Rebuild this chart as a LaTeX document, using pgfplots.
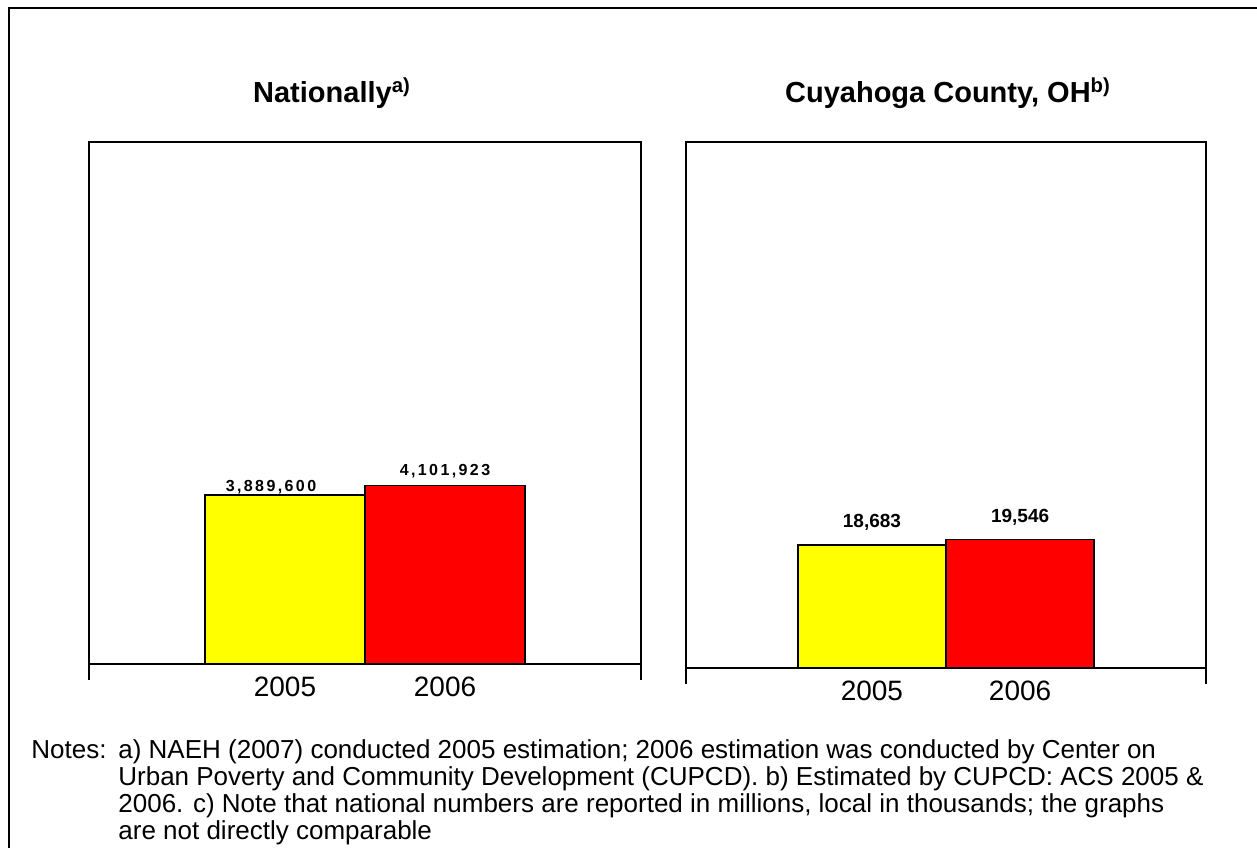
\documentclass[border=0pt]{standalone}
\usepackage{pgfplots}
\pgfplotsset{compat=1.18}
\usepackage{fontspec}
\setmainfont{Liberation Sans}
\definecolor{yel}{RGB}{255,255,0}
\definecolor{rd}{RGB}{255,0,0}
\begin{document}
\begin{tikzpicture}
\useasboundingbox (0pt,0pt) rectangle (628.5pt,423.5pt);
\draw[line width=1pt] (4.5pt,-1pt) -- (4.5pt,419.5pt) -- (630pt,419.5pt);
\pgfplotsset{
  panel/.style={
    anchor=south west, scale only axis,
    ymin=0, ytick=\empty,
    axis line style={line width=0.75pt},
    xtick pos=bottom, tick align=outside,
    x tick style={line width=0.75pt, black},
    major tick length=8pt,
    xticklabels={},
    extra x tick style={major tick length=0pt, xticklabel style={yshift=-3pt}},
    extra x tick labels={2005,2006},
    extra x ticks={1,2},
    tick label style={font=\fontsize{14}{16}\selectfont},
    clip=false,
  },
  mybar/.style={ybar, bar shift=0pt, draw=black, line width=0.75pt},
}
% Left panel
\begin{axis}[panel, at={(44.5pt,91.5pt)}, width=276pt, height=261pt,
  xmin=-0.225, xmax=3.225, ymax=12000000,
  xtick={-0.225,3.225}]
\addplot[mybar, bar width=80pt, fill=yel,
  nodes near coords={\bfseries\addfontfeature{LetterSpace=15}3,889,600},
  every node near coord/.append style={font=\fontsize{8}{9}\selectfont, black, yshift=-3.5pt, xshift=-7pt}]
  coordinates {(1,3889600)};
\addplot[mybar, bar width=80pt, fill=rd,
  nodes near coords={\bfseries\addfontfeature{LetterSpace=15}4,101,923},
  every node near coord/.append style={font=\fontsize{8}{9}\selectfont, black, yshift=0pt}]
  coordinates {(2,4101923)};
\end{axis}
% Right panel
\begin{axis}[panel, at={(343pt,89.5pt)}, width=260pt, height=263pt,
  xmin=-0.255, xmax=3.255, ymax=80000,
  xtick={-0.255,3.255}]
\addplot[mybar, bar width=74pt, fill=yel,
  nodes near coords={\bfseries 18,683},
  every node near coord/.append style={font=\fontsize{9.5}{11}\selectfont, black, yshift=3.5pt}]
  coordinates {(1,18683)};
\addplot[mybar, bar width=74pt, fill=rd,
  nodes near coords={\bfseries 19,546},
  every node near coord/.append style={font=\fontsize{9.5}{11}\selectfont, black, yshift=3.5pt}]
  coordinates {(2,19546)};
\end{axis}
% Titles
\node[font=\fontsize{14.5}{16}\selectfont\bfseries] at (166pt,377pt) {Nationally\textsuperscript{a)}};
\node[font=\fontsize{14.5}{16}\selectfont\bfseries] at (474pt,377pt) {Cuyahoga County, OH\textsuperscript{b)}};
% Notes
\node[anchor=base west, inner sep=0pt, font=\fontsize{13}{13.5}\selectfont] at (15.5pt,44.5pt) {Notes:};
\node[anchor=base west, inner sep=0pt, font=\fontsize{13}{13.5}\selectfont] at (59pt,44.5pt)
 {\begin{tabular}[t]{@{}l@{}}a) NAEH (2007) conducted 2005 estimation; 2006 estimation was conducted by Center on\\
  Urban Poverty and Community Development (CUPCD). b) Estimated by CUPCD: ACS 2005 \&\\
  2006. c) Note that national numbers are reported in millions, local in thousands; the graphs\\
  are not directly comparable\end{tabular}};
\end{tikzpicture}
\end{document}
